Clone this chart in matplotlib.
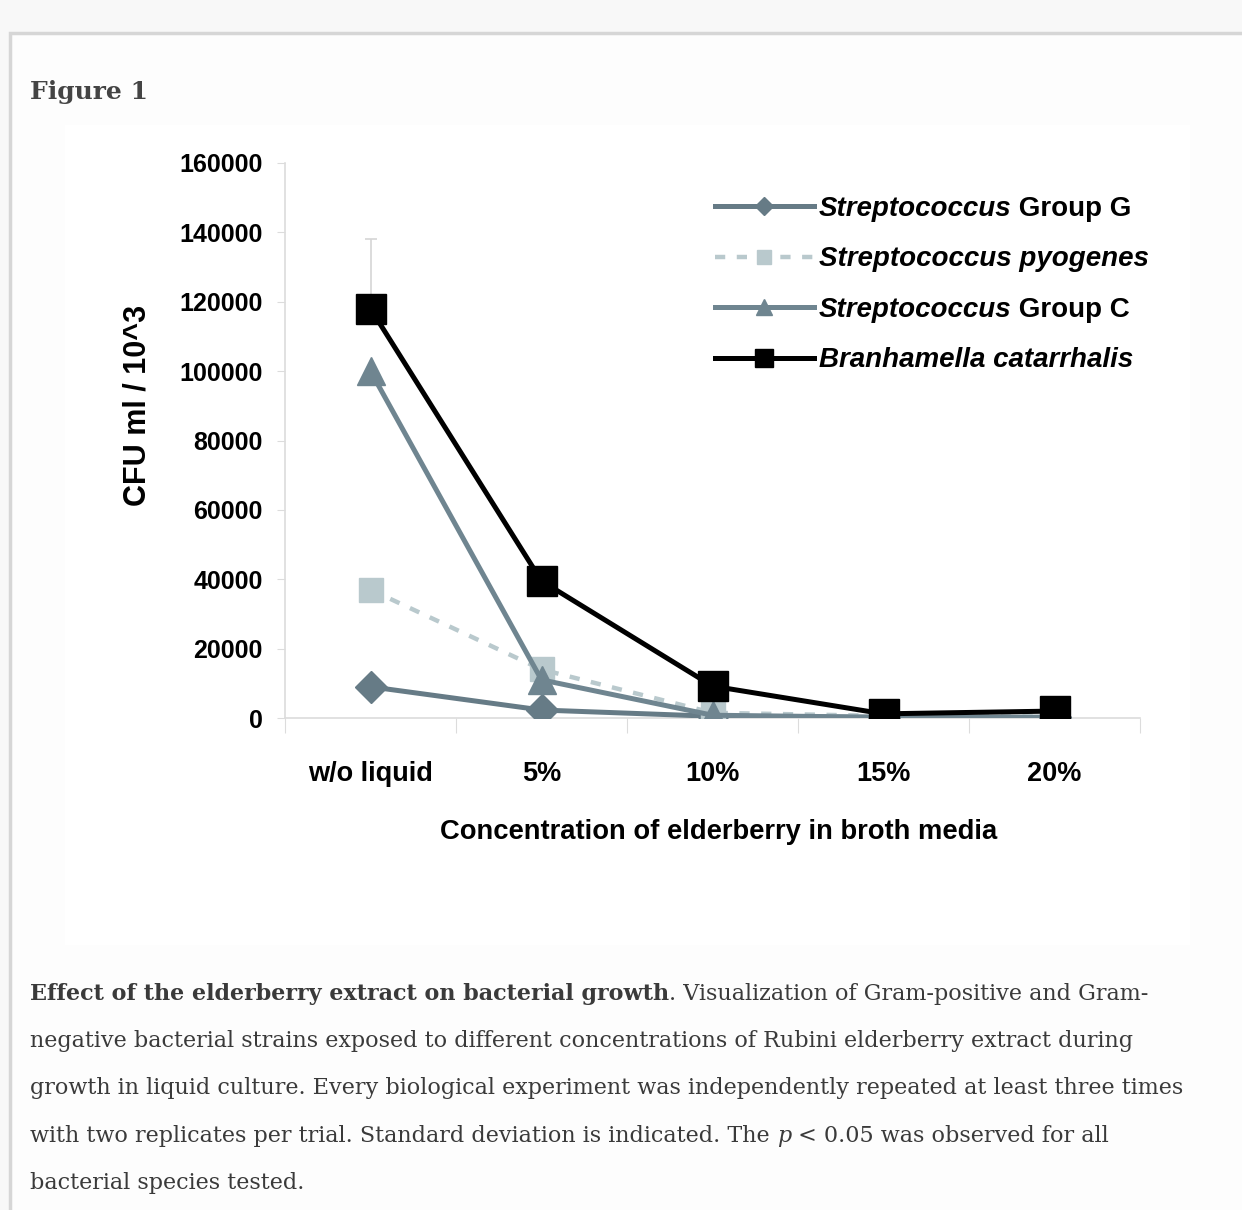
import numpy as np
import matplotlib.pyplot as plt
from matplotlib.patches import Rectangle

# data
categories = ['w/o liquid', '5%', '10%', '15%', '20%']
group_g = [9000, 2300, 500, 200, 200]
pyogenes = [37000, 14000, 1500, 600, 400]
group_c = [100000, 11000, 800, 200, 200]
branhamella = [118000, 39500, 9200, 1200, 2000]
branhamella_err = [20000, 0, 0, 0, 0]
y_ticks = [0, 20000, 40000, 60000, 80000, 100000, 120000, 140000, 160000]

W, H = 1242, 1210
fig = plt.figure(figsize=(W / 100, H / 100), dpi=100)
fig.patch.set_facecolor('#f8f8f8')


def fx(x):
    return x / W


def fy(y):
    return 1 - y / H


# page box and white chart area
fig.patches.append(Rectangle((fx(10), fy(1240)), fx(1250), (1240 - 33) / H,
                             transform=fig.transFigure, facecolor='#fdfdfd',
                             edgecolor='#d6d6d6', lw=2.5, zorder=-5))
fig.patches.append(Rectangle((fx(65), fy(945)), fx(1125), 820 / H, transform=fig.transFigure,
                             facecolor='white', edgecolor='none', zorder=-4))

fig.text(fx(30), fy(92), 'Figure 1', family='DejaVu Serif', weight='bold', fontsize=18,
         color='#444444', va='center', ha='left')

sans = ['Liberation Sans', 'DejaVu Sans']

ax = fig.add_axes([fx(285), fy(718), 855 / W, 555 / H])
ax.set_facecolor('white')
x = np.arange(len(categories))

slate = '#667b86'
ax.plot(x, group_g, color=slate, lw=3.6, marker='D', ms=16, mec=slate, mfc=slate,
        label='Streptococcus', zorder=3)
ax.plot(x, pyogenes, color='#b9c9cd', lw=3.2, ls=(0, (2.3, 2.6)), marker='s', ms=17,
        mec='#b9c9cd', mfc='#b9c9cd', label='Streptococcus pyogenes', zorder=3)
ax.plot(x, group_c, color='#6f8590', lw=3.6, marker='^', ms=20, mec='#6f8590', mfc='#6f8590',
        label='Streptococcus', zorder=3)
ax.errorbar(x, branhamella, yerr=[np.zeros(len(x)), branhamella_err], fmt='none',
            ecolor='#d5d5d5', elinewidth=1.2, capsize=4, capthick=1.2, zorder=2)
ax.plot(x, branhamella, color='black', lw=3.6, marker='s', ms=22, mec='black', mfc='black',
        label='Branhamella catarrhalis', zorder=4)

ax.set_xlim(-0.5, 4.5)
ax.set_ylim(0, 160000)
for s in ['top', 'right']:
    ax.spines[s].set_visible(False)
for s in ['left', 'bottom']:
    ax.spines[s].set_color('#dcdcdc')
    ax.spines[s].set_linewidth(1.2)

ax.set_yticks(y_ticks)
ax.set_yticklabels([str(v) for v in y_ticks], family=sans, weight='bold', fontsize=18)
ax.tick_params(axis='y', length=6, color='#dcdcdc', pad=10)

ax.set_xticks(np.arange(-0.5, 5, 1))
ax.set_xticklabels([])
ax.tick_params(axis='x', which='major', length=11, color='#dcdcdc')
ax.set_xticks(x, minor=True)
ax.set_xticklabels(categories, minor=True, family=sans, weight='bold', fontsize=19.5)
ax.tick_params(axis='x', which='minor', length=0, pad=31)

fig.text(fx(138), fy(405), 'CFU ml / 10^3', rotation=90, family=sans, weight='bold',
         fontsize=22, ha='center', va='center')
fig.text(fx(719), fy(832), 'Concentration of elderberry in broth media', family=sans,
         weight='bold', fontsize=19.7, ha='center', va='center')

leg = ax.legend(loc='upper left', bbox_to_anchor=(fx(690), fy(171)),
                bbox_transform=fig.transFigure, frameon=False, markerscale=0.6,
                handlelength=3.55, handletextpad=0.18, labelspacing=0.88,
                prop={'family': sans, 'weight': 'bold', 'style': 'italic', 'size': 20})
leg.set_zorder(8)
tail = {0: ' Group G', 2: ' Group C'}
for i, t in enumerate(leg.get_texts()):
    if i in tail:
        ax.annotate(tail[i], xy=(1, 0), xycoords=t, va='bottom', ha='left',
                    family=sans, weight='bold', fontsize=20, annotation_clip=False,
                    zorder=10)

# caption
cap_font = dict(family='DejaVu Serif', fontsize=16, color='#3a3a3a', ha='left')
base = [1000, 1047, 1094, 1142, 1189]
t0 = fig.text(fx(30), fy(base[0]), 'Effect of the elderberry extract on bacterial growth',
              weight='bold', va='baseline', **cap_font)
ax.annotate('. Visualization of Gram-positive and Gram-', xy=(1, 0), xycoords=t0,
            va='bottom', annotation_clip=False, **cap_font)
fig.text(fx(30), fy(base[1]),
         'negative bacterial strains exposed to different concentrations of Rubini elderberry extract during',
         va='baseline', **cap_font)
fig.text(fx(30), fy(base[2]),
         'growth in liquid culture. Every biological experiment was independently repeated at least three times',
         va='baseline', **cap_font)
t3 = fig.text(fx(30), fy(base[3]),
              'with two replicates per trial. Standard deviation is indicated. The ',
              va='baseline', **cap_font)
t3b = ax.annotate('p', xy=(1, 0), xycoords=t3, annotation_clip=False, style='italic',
                  va='bottom', **cap_font)
ax.annotate(' < 0.05 was observed for all', xy=(1, 0), xycoords=t3b, annotation_clip=False,
            va='bottom', **cap_font)
fig.text(fx(30), fy(base[4]), 'bacterial species tested.', va='baseline', **cap_font)

fig.savefig('out.png', dpi=100, facecolor=fig.get_facecolor())
